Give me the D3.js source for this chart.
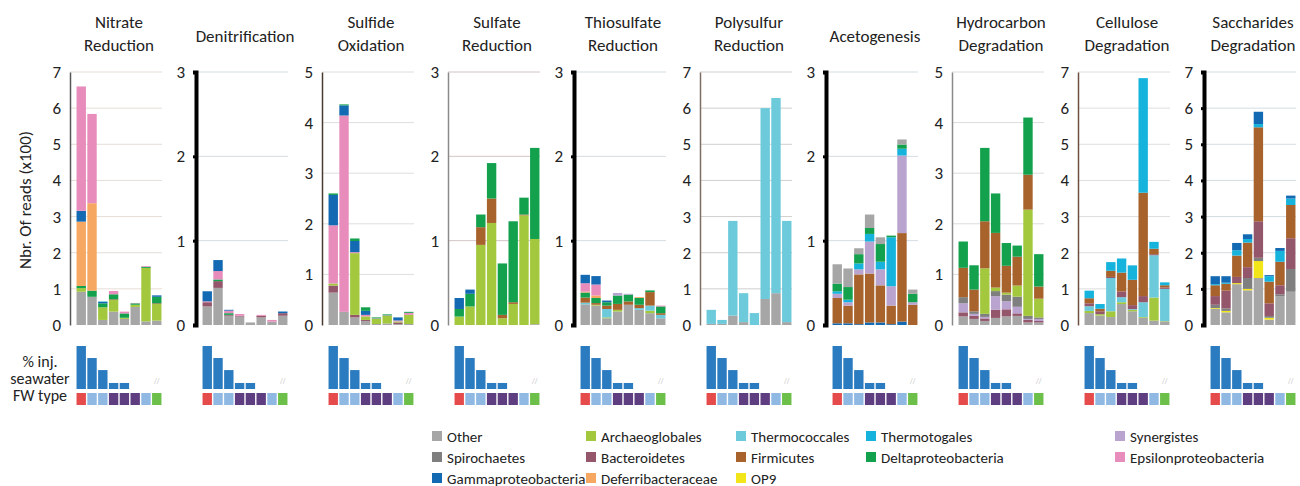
<!DOCTYPE html>
<html lang="en">
<head>
<meta charset="UTF-8">
<title>Functional groups</title>
<script src="https://cdn.jsdelivr.net/npm/d3@7/dist/d3.min.js"></script>
<style>
    body { margin: 0; background: #fff; }
    svg text { font-family: Carlito, Lato, 'Open Sans', sans-serif; fill: #222; }
</style>
</head>
<body>
<svg id="chart" width="1300" height="486"></svg>
<script>
// ---- data ----
const taxa = ["Other", "Spirochaetes", "Gammaproteobacteria", "Archaeoglobales", "Bacteroidetes",
    "Deferribacteraceae", "Thermococcales", "Firmicutes", "OP9", "Thermotogales",
    "Deltaproteobacteria", "Synergistes", "Epsilonproteobacteria"];
const taxaColors = ["#a6a6a6", "#7f7f7f", "#1469b3", "#a3c83e", "#94566a",
    "#f6a862", "#6ccadb", "#a8622b", "#f2e51a", "#16b3dc",
    "#13a14e", "#b9a3cf", "#e88cbc"];

// legend is laid out in rows like the original
const legendRows = [
    ["Other", "Archaeoglobales", "Thermococcales", "Thermotogales", "Synergistes"],
    ["Spirochaetes", "Bacteroidetes", "Firmicutes", "Deltaproteobacteria", "Epsilonproteobacteria"],
    ["Gammaproteobacteria", "Deferribacteraceae", "OP9"]
];

const panelTitles = [
    ["Nitrate", "Reduction"], ["Denitrification"], ["Sulfide", "Oxidation"], ["Sulfate", "Reduction"],
    ["Thiosulfate", "Reduction"], ["Polysulfur", "Reduction"], ["Acetogenesis"],
    ["Hydrocarbon", "Degradation"], ["Cellulose", "Degradation"], ["Saccharides", "Degradation"]
];
const panelMax = [7, 3, 5, 3, 3, 7, 3, 5, 7, 7];
const axisStyle = ["thin", "thick", "thin", "thin", "thick", "thin", "thick", "thin", "thin", "thick"];

// reads (x100) per taxon, 8 samples; key order = stacking order from the bottom
const nitrateReduction = {
    Other:                 [0.92, 0.78, 0.14, 0.37, 0.17, 0.50, 0.10, 0.12],
    Archaeoglobales:       [0.10, 0.00, 0.35, 0.32, 0.03, 0.06, 1.48, 0.46],
    Firmicutes:            [0.00, 0.00, 0.00, 0.02, 0.00, 0.00, 0.00, 0.02],
    Deltaproteobacteria:   [0.06, 0.17, 0.11, 0.14, 0.12, 0.04, 0.03, 0.18],
    Deferribacteraceae:    [1.78, 2.42, 0.00, 0.00, 0.00, 0.00, 0.00, 0.00],
    Gammaproteobacteria:   [0.30, 0.00, 0.04, 0.00, 0.00, 0.00, 0.00, 0.04],
    Thermococcales:        [0.00, 0.00, 0.02, 0.00, 0.00, 0.00, 0.00, 0.00],
    Epsilonproteobacteria: [3.44, 2.47, 0.00, 0.09, 0.05, 0.01, 0.02, 0.00]
};
const denitrification = {
    Other:                 [0.22, 0.44, 0.11, 0.10, 0.03, 0.09, 0.04, 0.11],
    Bacteroidetes:         [0.05, 0.08, 0.01, 0.01, 0.00, 0.02, 0.00, 0.03],
    Deltaproteobacteria:   [0.00, 0.02, 0.02, 0.00, 0.00, 0.00, 0.00, 0.00],
    Epsilonproteobacteria: [0.01, 0.10, 0.03, 0.02, 0.00, 0.01, 0.02, 0.00],
    Gammaproteobacteria:   [0.12, 0.13, 0.01, 0.00, 0.00, 0.00, 0.00, 0.02]
};
const sulfideOxidation = {
    Other:                 [0.64, 0.26, 0.15, 0.08, 0.02, 0.03, 0.02, 0.02],
    Bacteroidetes:         [0.14, 0.00, 0.05, 0.02, 0.00, 0.00, 0.03, 0.00],
    Archaeoglobales:       [0.04, 0.00, 1.22, 0.07, 0.10, 0.15, 0.02, 0.18],
    Epsilonproteobacteria: [1.15, 3.88, 0.02, 0.03, 0.01, 0.01, 0.02, 0.04],
    Gammaproteobacteria:   [0.60, 0.20, 0.22, 0.08, 0.00, 0.00, 0.06, 0.00],
    Deltaproteobacteria:   [0.03, 0.02, 0.05, 0.07, 0.02, 0.02, 0.00, 0.02]
};
const sulfateReduction = {
    Other:                 [0.00, 0.00, 0.00, 0.00, 0.00, 0.00, 0.00, 0.01],
    Archaeoglobales:       [0.10, 0.22, 0.95, 1.21, 0.08, 0.25, 1.30, 1.01],
    Firmicutes:            [0.00, 0.00, 0.21, 0.29, 0.04, 0.02, 0.01, 0.00],
    Deltaproteobacteria:   [0.09, 0.15, 0.15, 0.42, 0.61, 0.96, 0.20, 1.08],
    Gammaproteobacteria:   [0.13, 0.05, 0.00, 0.00, 0.00, 0.00, 0.00, 0.00]
};
const thiosulfateReduction = {
    Other:                 [0.245, 0.23, 0.08, 0.16, 0.24, 0.18, 0.14, 0.08],
    Archaeoglobales:       [0.00, 0.01, 0.01, 0.02, 0.00, 0.00, 0.03, 0.00],
    Thermococcales:        [0.02, 0.00, 0.10, 0.00, 0.00, 0.02, 0.06, 0.04],
    Firmicutes:            [0.06, 0.02, 0.04, 0.07, 0.04, 0.04, 0.16, 0.02],
    Deltaproteobacteria:   [0.06, 0.06, 0.04, 0.10, 0.08, 0.08, 0.02, 0.08],
    Synergistes:           [0.00, 0.00, 0.00, 0.03, 0.01, 0.00, 0.00, 0.00],
    Deferribacteraceae:    [0.01, 0.03, 0.00, 0.00, 0.00, 0.01, 0.00, 0.00],
    Epsilonproteobacteria: [0.10, 0.13, 0.00, 0.00, 0.00, 0.00, 0.00, 0.01],
    Gammaproteobacteria:   [0.10, 0.10, 0.02, 0.00, 0.00, 0.00, 0.00, 0.00]
};
const polysulfurReduction = {
    Other:                 [0.03, 0.03, 0.26, 0.08, 0.00, 0.72, 0.88, 0.08],
    Thermococcales:        [0.39, 0.11, 2.62, 0.80, 0.33, 5.28, 5.40, 2.80]
};
const acetogenesis = {
    Gammaproteobacteria:   [0.02, 0.02, 0.01, 0.03, 0.03, 0.01, 0.04, 0.00],
    Firmicutes:            [0.30, 0.21, 0.59, 0.58, 0.44, 0.22, 1.05, 0.24],
    Synergistes:           [0.05, 0.04, 0.06, 0.38, 0.19, 0.23, 0.92, 0.03],
    Thermotogales:         [0.03, 0.03, 0.07, 0.09, 0.09, 0.58, 0.08, 0.00],
    Deltaproteobacteria:   [0.09, 0.15, 0.11, 0.07, 0.21, 0.02, 0.05, 0.10],
    Other:                 [0.23, 0.22, 0.07, 0.16, 0.08, 0.00, 0.06, 0.05]
};
const hydrocarbonDegradation = {
    Other:                 [0.17, 0.12, 0.08, 0.14, 0.17, 0.18, 0.05, 0.05],
    Bacteroidetes:         [0.08, 0.06, 0.05, 0.16, 0.14, 0.05, 0.05, 0.03],
    Synergistes:           [0.18, 0.04, 0.03, 0.27, 0.16, 0.13, 0.02, 0.04],
    Spirochaetes:          [0.12, 0.05, 0.06, 0.10, 0.13, 0.20, 0.06, 0.03],
    Archaeoglobales:       [0.00, 0.00, 0.90, 0.07, 0.04, 0.22, 2.10, 0.37],
    Firmicutes:            [0.58, 0.43, 0.93, 1.08, 0.53, 0.57, 0.69, 0.24],
    Deltaproteobacteria:   [0.52, 0.48, 1.45, 0.78, 0.45, 0.22, 1.13, 0.64]
};
const celluloseDegradation = {
    Other:                 [0.33, 0.26, 0.22, 0.58, 0.38, 0.20, 0.12, 0.10],
    Archaeoglobales:       [0.06, 0.04, 0.16, 0.05, 0.04, 0.02, 0.64, 0.01],
    Thermococcales:        [0.13, 0.00, 0.92, 0.14, 0.02, 0.41, 1.17, 0.89],
    Bacteroidetes:         [0.08, 0.08, 0.03, 0.16, 0.11, 0.17, 0.03, 0.04],
    Firmicutes:            [0.14, 0.07, 0.17, 0.52, 0.70, 2.86, 0.15, 0.06],
    Thermotogales:         [0.21, 0.13, 0.24, 0.39, 0.40, 3.17, 0.19, 0.08]
};
const saccharidesDegradation = {
    Other:                 [0.45, 0.35, 1.13, 0.96, 1.30, 0.15, 0.80, 0.92],
    OP9:                   [0.02, 0.04, 0.03, 0.04, 0.47, 0.05, 0.00, 0.00],
    Spirochaetes:          [0.09, 0.07, 0.00, 0.30, 0.09, 0.05, 0.05, 0.63],
    Bacteroidetes:         [0.24, 0.49, 0.17, 0.30, 1.01, 0.35, 0.25, 0.85],
    Firmicutes:            [0.30, 0.19, 0.59, 0.68, 2.60, 0.60, 0.65, 0.92],
    Thermotogales:         [0.03, 0.03, 0.15, 0.10, 0.09, 0.15, 0.30, 0.18],
    Gammaproteobacteria:   [0.22, 0.18, 0.20, 0.13, 0.34, 0.03, 0.08, 0.08]
};
const panels = [nitrateReduction, denitrification, sulfideOxidation, sulfateReduction,
    thiosulfateReduction, polysulfurReduction, acetogenesis, hydrocarbonDegradation,
    celluloseDegradation, saccharidesDegradation];

// bottom strip: % injected seawater (null = not available) and formation water type
const samples = d3.range(8);
const injSeawater = [100, 72, 44, 14, 14, 0, 0, null];
const fwType = ["A", "B", "B", "C", "C", "C", "B", "D"];
const fwColors = { A: "#e64b4b", B: "#8fb9e3", C: "#5e3d80", D: "#6cc04a" };

// ---- layout ----
const svg = d3.select("#chart");
const color = d3.scaleOrdinal(taxa, taxaColors);
const firstAxis = 70, panelStep = 126;
const yTop = 72, yBottom = 325;

svg.append("text")
    .attr("transform", "translate(31,200) rotate(-90)")
    .attr("text-anchor", "middle")
    .style("font-size", "17px")
    .text("Nbr. Of reads (x100)");

const gridColor = ["#e6ddd6", "#d3dde2", "#dedede", "#d4c4c4", "#d3dde2",
    "#cfcfcf", "#d3dde2", "#dcdcdc", "#dedede", "#d3dde2"];
const axisColor = ["#555", "#000", "#4a3a32", "#8a8a8a", "#000", "#7a6e66", "#000", "#8a8a8a", "#6b4e40", "#000"];

panels.forEach((data, i) => {
    const x0 = firstAxis + i * panelStep;
    const g = svg.append("g");

    const x = d3.scaleBand(samples, [x0 + 6, x0 + 92]).paddingInner(0.13).paddingOuter(0.05);
    const y = d3.scaleLinear([0, panelMax[i]], [yBottom, yTop]);

    // gridlines
    g.selectAll(".grid")
        .data(y.ticks(panelMax[i]).filter(t => t > 0))
        .join("line")
        .attr("x1", x0).attr("x2", x0 + 92)
        .attr("y1", d => y(d)).attr("y2", d => y(d))
        .attr("stroke", gridColor[i]).attr("stroke-width", 1);

    // stacked bars
    const keys = Object.keys(data);
    const rows = samples.map(j => Object.fromEntries(keys.map(k => [k, data[k][j]])));
    const series = d3.stack().keys(keys)(rows);
    g.selectAll(".layer")
        .data(series)
        .join("g")
        .attr("fill", s => color(s.key))
        .selectAll("rect")
        .data(s => s.map((d, j) => ({ d, j })))
        .join("rect")
        .attr("x", p => x(p.j))
        .attr("width", x.bandwidth())
        .attr("y", p => y(p.d[1]))
        .attr("height", p => Math.max(0, y(p.d[0]) - y(p.d[1])));

    // y axis
    const thick = axisStyle[i] === "thick";
    const ax = g.append("g")
        .attr("transform", `translate(${x0},0)`)
        .call(d3.axisLeft(y).ticks(panelMax[i]).tickFormat(d3.format("d")).tickSize(thick ? 3 : 0).tickPadding(thick ? 8 : 9));
    ax.select(".domain")
        .attr("stroke", axisColor[i])
        .attr("stroke-width", thick ? 4 : 1.5);
    ax.selectAll(".tick line").attr("stroke", "#000").attr("stroke-width", 3);
    ax.selectAll(".tick text")
        .style("font-size", "17px")
        .style("font-family", "Carlito, Lato, 'Open Sans', sans-serif")
        .attr("fill", "#333");

    // title
    const cx = (x(0) + x(7) + x.bandwidth()) / 2;
    const lines = panelTitles[i];
    g.append("text")
        .attr("text-anchor", "middle")
        .style("font-size", "17px")
        .selectAll("tspan")
        .data(lines)
        .join("tspan")
        .attr("x", cx)
        .attr("y", (d, k) => lines.length === 1 ? 42 : 28 + k * 23)
        .text(d => d);

    // % injected seawater mini bars
    const yMini = d3.scaleLinear([0, 100], [389, 346]);
    g.selectAll(".mini")
        .data(samples.filter(j => injSeawater[j] > 0))
        .join("rect")
        .attr("x", j => x(j))
        .attr("width", x.bandwidth())
        .attr("y", j => yMini(injSeawater[j]))
        .attr("height", j => yMini(0) - yMini(injSeawater[j]))
        .attr("fill", "#2a7bc0");
    samples.filter(j => injSeawater[j] === null).forEach(j => {
        g.append("text")
            .attr("x", x(j) + x.bandwidth() / 2)
            .attr("y", 384)
            .attr("text-anchor", "middle")
            .style("font-size", "7px")
            .style("fill", "#bbb")
            .text("//");
    });

    // formation water type squares
    g.selectAll(".fw")
        .data(samples)
        .join("rect")
        .attr("x", j => x(j))
        .attr("width", x.bandwidth())
        .attr("y", 393)
        .attr("height", 12)
        .attr("fill", j => fwColors[fwType[j]]);
});

// strip labels
svg.append("text")
    .attr("text-anchor", "middle")
    .style("font-size", "16px")
    .selectAll("tspan")
    .data(["% inj.", "seawater", "FW type"])
    .join("tspan")
    .attr("x", 40)
    .attr("y", (d, k) => 367 + k * 17)
    .text(d => d);

// legend
const legendX = [432, 586, 736, 866, 1115];
legendRows.forEach((row, r) => {
    row.forEach((name, c) => {
        const lg = svg.append("g").attr("transform", `translate(${legendX[c]},${436 + r * 21})`);
        lg.append("rect").attr("x", 0).attr("y", -5).attr("width", 10).attr("height", 10).attr("fill", color(name));
        lg.append("text").attr("x", 15).attr("y", 5.5).style("font-size", "15px").text(name);
    });
});
</script>
</body>
</html>
